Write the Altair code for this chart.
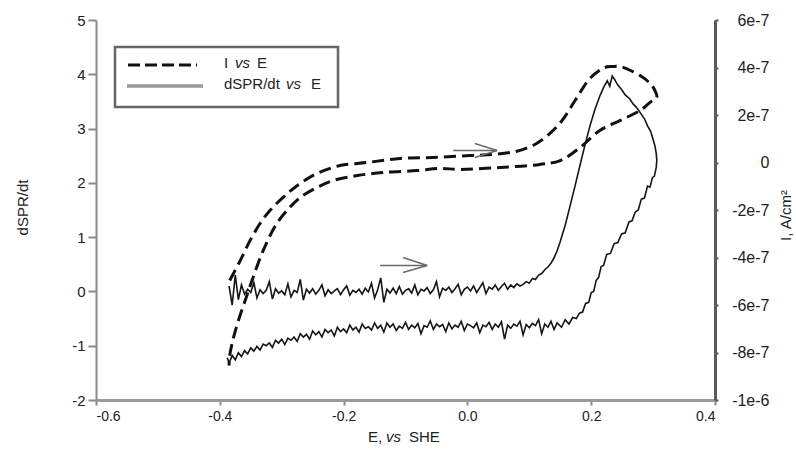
import altair as alt
import pandas as pd

FONT = "Liberation Sans"
MINUS = "\u2212"
NBSP = "\u00a0"

# ---------------- axis ticks ----------------
x_ticks = [-0.6, -0.4, -0.2, 0.0, 0.2, 0.4]
yl_ticks = [-2, -1, 0, 1, 2, 3, 4, 5]
yr_ticks = [-1e-6, -8e-7, -6e-7, -4e-7, -2e-7, 0, 2e-7, 4e-7, 6e-7]

# ---------------- I vs E (dashed), units of 1e-7 A/cm2 ----------------
cvf_E = [-0.384, -0.367, -0.351, -0.335, -0.319, -0.291, -0.270, -0.243, -0.206, -0.162,
         -0.109, -0.056, 0.004, 0.041, 0.069, 0.085, 0.109, 0.133, 0.153, 0.174,
         0.198, 0.222, 0.234, 0.247, 0.279, 0.295, 0.303, 0.306]
cvf_I = [-4.97, -4.13, -3.28, -2.57, -2.02, -1.31, -0.88, -0.46, -0.13, 0.00,
         0.17, 0.21, 0.29, 0.34, 0.42, 0.51, 0.76, 1.22, 1.77, 2.61,
         3.54, 4.00, 4.04, 4.04, 3.66, 3.33, 3.03, 2.74]
cvr_E = [0.295, 0.279, 0.247, 0.214, 0.182, 0.150, 0.117, 0.053, -0.012, -0.044,
         -0.081, -0.136, -0.178, -0.217, -0.243, -0.270, -0.287, -0.308, -0.330, -0.348,
         -0.359, -0.371, -0.379, -0.384, -0.385]
cvr_I = [2.53, 2.19, 1.77, 1.35, 0.63, 0.08, -0.08, -0.21, -0.29, -0.25,
         -0.34, -0.42, -0.55, -0.76, -1.05, -1.47, -1.89, -2.57, -3.71, -4.97,
         -5.81, -6.74, -7.49, -8.13, -8.55]

# ---------------- dSPR/dt vs E (noisy solid) ----------------
fwd_E = [-0.385, -0.380, -0.375, -0.370, -0.365, -0.360, -0.355, -0.350, -0.345, -0.340,
         -0.335, -0.330, -0.325, -0.320, -0.315, -0.310, -0.305, -0.300, -0.295, -0.290,
         -0.285, -0.280, -0.275, -0.270, -0.265, -0.260, -0.255, -0.250, -0.245, -0.240,
         -0.235, -0.230, -0.225, -0.220, -0.215, -0.210, -0.205, -0.200, -0.195, -0.190,
         -0.185, -0.180, -0.175, -0.170, -0.165, -0.160, -0.155, -0.150, -0.145, -0.140,
         -0.135, -0.130, -0.125, -0.120, -0.115, -0.110, -0.105, -0.100, -0.095, -0.090,
         -0.085, -0.080, -0.075, -0.070, -0.065, -0.060, -0.055, -0.050, -0.045, -0.040,
         -0.035, -0.030, -0.025, -0.020, -0.015, -0.010, -0.005, 0.000, 0.005, 0.010,
         0.015, 0.020, 0.025, 0.030, 0.035, 0.040, 0.045, 0.050, 0.055, 0.060,
         0.065, 0.070, 0.075, 0.080, 0.085]
fwd_S = [0.10, -0.25, 0.30, -0.15, 0.12, -0.05, 0.04, -0.02, 0.16, -0.12,
         0.03, -0.04, 0.02, 0.18, -0.14, 0.05, -0.03, 0.01, -0.06, 0.14,
         -0.10, 0.02, -0.02, 0.22, -0.16, 0.04, -0.03, 0.05, -0.05, 0.02,
         0.12, -0.08, 0.03, -0.04, 0.01, 0.05, -0.06, 0.03, 0.10, -0.07,
         0.02, -0.02, 0.04, -0.05, 0.06, -0.01, 0.15, -0.12, 0.03, 0.25,
         -0.20, 0.04, -0.03, 0.06, -0.04, 0.09, -0.05, 0.02, 0.05, -0.03,
         0.12, -0.06, 0.04, 0.01, 0.07, -0.04, 0.03, 0.18, -0.10, 0.06,
         0.02, 0.08, -0.02, 0.05, 0.13, -0.06, 0.04, 0.08, 0.01, 0.10,
         -0.02, 0.07, 0.16, -0.04, 0.08, 0.04, 0.12, 0.02, 0.09, 0.15,
         0.04, 0.12, 0.07, 0.14, 0.10]
rise_E = [0.090, 0.095, 0.100, 0.105, 0.110, 0.115, 0.120, 0.125, 0.130, 0.135,
          0.140, 0.145, 0.150, 0.158, 0.166, 0.174, 0.182, 0.190, 0.198, 0.206,
          0.214, 0.220, 0.226, 0.230, 0.234, 0.238, 0.243, 0.249, 0.255, 0.262,
          0.268, 0.274, 0.280, 0.286, 0.291, 0.296, 0.300, 0.303, 0.305, 0.306]
rise_S = [0.13, 0.18, 0.15, 0.24, 0.22, 0.30, 0.33, 0.40, 0.45, 0.52,
          0.62, 0.75, 0.92, 1.22, 1.58, 1.95, 2.33, 2.70, 3.05, 3.35,
          3.60, 3.76, 3.88, 3.78, 3.97, 3.90, 3.80, 3.72, 3.62, 3.55,
          3.45, 3.38, 3.28, 3.18, 3.05, 2.95, 2.80, 2.68, 2.55, 2.42]
desc_E = [0.305, 0.302, 0.299, 0.295, 0.291, 0.286, 0.281, 0.276, 0.271, 0.266,
          0.261, 0.255, 0.249, 0.243, 0.237, 0.231, 0.225, 0.220, 0.216, 0.212,
          0.208, 0.204, 0.200, 0.196, 0.191, 0.186, 0.181, 0.176, 0.170, 0.164,
          0.158, 0.152]
desc_S = [2.28, 2.12, 2.10, 1.92, 1.94, 1.72, 1.70, 1.50, 1.46, 1.30,
          1.28, 1.08, 1.06, 0.90, 0.88, 0.70, 0.68, 0.48, 0.46, 0.26,
          0.20, 0.00, -0.02, -0.20, -0.22, -0.38, -0.40, -0.50, -0.48, -0.60,
          -0.52, -0.66]
back_E = [0.145, 0.140, 0.135, 0.130, 0.125, 0.120, 0.115, 0.110, 0.105, 0.100,
          0.095, 0.090, 0.085, 0.080, 0.075, 0.070, 0.065, 0.060, 0.055, 0.050,
          0.045, 0.040, 0.035, 0.030, 0.025, 0.020, 0.015, 0.010, 0.005, 0.000,
          -0.005, -0.010, -0.015, -0.020, -0.025, -0.030, -0.035, -0.040, -0.045, -0.050,
          -0.055, -0.060, -0.065, -0.070, -0.075, -0.080, -0.085, -0.090, -0.095, -0.100,
          -0.105, -0.110, -0.115, -0.120, -0.125, -0.130, -0.135, -0.140, -0.145, -0.150,
          -0.155, -0.160, -0.165, -0.170, -0.175, -0.180, -0.185, -0.190, -0.195, -0.200,
          -0.205, -0.210, -0.215, -0.220, -0.225, -0.230, -0.235, -0.240, -0.245, -0.250,
          -0.255, -0.260, -0.265, -0.270, -0.275, -0.280, -0.285, -0.290, -0.295, -0.300,
          -0.305, -0.310, -0.315, -0.320, -0.325, -0.330, -0.335, -0.340, -0.345, -0.350,
          -0.355, -0.360, -0.365, -0.370, -0.375, -0.380, -0.385, -0.388]
back_S = [-0.58, -0.70, -0.55, -0.66, -0.60, -0.78, -0.52, -0.63, -0.59, -0.67,
          -0.61, -0.80, -0.55, -0.64, -0.60, -0.68, -0.62, -0.88, -0.56, -0.66,
          -0.60, -0.70, -0.57, -0.65, -0.62, -0.76, -0.58, -0.67, -0.63, -0.60,
          -0.72, -0.55, -0.66, -0.62, -0.69, -0.58, -0.74, -0.61, -0.65, -0.60,
          -0.70, -0.54, -0.66, -0.63, -0.78, -0.59, -0.67, -0.62, -0.70, -0.57,
          -0.68, -0.64, -0.72, -0.60, -0.66, -0.58, -0.75, -0.62, -0.68, -0.58,
          -0.71, -0.65, -0.68, -0.60, -0.75, -0.66, -0.71, -0.62, -0.76, -0.69,
          -0.74, -0.66, -0.82, -0.71, -0.76, -0.70, -0.84, -0.74, -0.80, -0.73,
          -0.88, -0.79, -0.84, -0.78, -0.92, -0.84, -0.90, -0.86, -0.98, -0.88,
          -0.95, -0.90, -1.03, -0.95, -1.00, -0.97, -1.08, -1.01, -1.10, -1.04,
          -1.15, -1.09, -1.20, -1.13, -1.26, -1.18, -1.32, -1.22]

# ---------------- scan-direction arrows (shaft + two barbs) ----------------
arS_E = [-0.141, -0.104, -0.104]
arS_E2 = [-0.065, -0.065, -0.065]
arS_S = [0.478, 0.625, 0.349]
arS_S2 = [0.478, 0.478, 0.478]
arI_E = [-0.023, 0.012, 0.012]
arI_E2 = [0.048, 0.048, 0.048]
arI_I = [0.505, 0.80, 0.21]
arI_I2 = [0.505, 0.505, 0.505]

# ---------------- tables ----------------
sig = pd.DataFrame({"E": fwd_E + rise_E + desc_E + back_E,
                    "S": fwd_S + rise_S + desc_S + back_S})
sig["idx"] = range(len(sig))
cv = pd.DataFrame({"E": cvf_E + cvr_E, "I": [v * 1e-7 for v in cvf_I + cvr_I]})
cv["idx"] = range(len(cv))
arrS = pd.DataFrame({"E": arS_E, "E2": arS_E2, "S": arS_S, "S2": arS_S2})
arrI = pd.DataFrame({"E": arI_E, "E2": arI_E2,
                     "I": [v * 1e-7 for v in arI_I], "I2": [v * 1e-7 for v in arI_I2]})
one = pd.DataFrame({"k": [0]})

x_scale = alt.Scale(domain=[-0.6, 0.4], nice=False, zero=False)
x_axis = alt.Axis(values=x_ticks, title=None, grid=False,
                  labelExpr=f"replace(format(datum.value, '.1f'), '{MINUS}', '-')",
                  domainColor="#9a9a9a", domainWidth=3, tickColor="#8a8a8a", tickWidth=2,
                  tickSize=5, labelPadding=4, labelFontSize=14)
yl_scale = alt.Scale(domain=[-2, 5], nice=False, zero=False)
yl_axis = alt.Axis(values=yl_ticks, orient="left", title="dSPR/dt", grid=False,
                   labelExpr=f"replace(format(datum.value, 'd'), '{MINUS}', '-')",
                   labelFontSize=15, tickSize=8, tickColor="#8a8a8a", tickWidth=2,
                   domainColor="#8a8a8a", domainWidth=2, labelPadding=3,
                   titleFontSize=15, titleFontWeight="normal", titleAngle=270,
                   titleX=-74, titleY=187, titleAlign="center", titleBaseline="middle")
yr_scale = alt.Scale(domain=[-1e-6, 6e-7], nice=False, zero=False)
zero_lbl = "0" + NBSP * 5
yr_axis = alt.Axis(values=yr_ticks, orient="right", title="I, A/cm²", grid=False,
                   labelExpr=f"datum.value == 0 ? '{zero_lbl}' : replace(format(datum.value, '.0e'), '{MINUS}', '-')",
                   labelAlign="right", labelPadding=51, labelFontSize=16,
                   tickSize=3, tickColor="#555555", tickWidth=2,
                   domainColor="#5a5a5a", domainWidth=3,
                   titleFontSize=15, titleFontWeight="normal", titleAngle=270,
                   titleX=70, titleY=195, titleAlign="center", titleBaseline="middle")

line_s = alt.Chart(sig).mark_line(color="#151515", strokeWidth=1.6).encode(
    x=alt.X("E:Q", scale=x_scale, axis=x_axis),
    y=alt.Y("S:Q", scale=yl_scale, axis=yl_axis),
    order=alt.Order("idx:Q"),
)
arrow_s = alt.Chart(arrS).mark_rule(color="#6a6a6a", strokeWidth=1.5).encode(
    x=alt.X("E:Q", scale=x_scale, axis=x_axis), x2="E2:Q",
    y=alt.Y("S:Q", scale=yl_scale, axis=yl_axis), y2="S2:Q",
)
left = alt.layer(line_s, arrow_s)

line_i = alt.Chart(cv).mark_line(color="#111111", strokeWidth=3, strokeDash=[12, 6],
                                 interpolate="catmull-rom").encode(
    x=alt.X("E:Q", scale=x_scale, axis=x_axis),
    y=alt.Y("I:Q", scale=yr_scale, axis=yr_axis),
    order=alt.Order("idx:Q"),
)
arrow_i = alt.Chart(arrI).mark_rule(color="#6a6a6a", strokeWidth=1.5).encode(
    x=alt.X("E:Q", scale=x_scale, axis=x_axis), x2="E2:Q",
    y=alt.Y("I:Q", scale=yr_scale, axis=yr_axis), y2="I2:Q",
)
right = alt.layer(line_i, arrow_i)


def txt(s, x, y, size=15, style="normal"):
    return alt.Chart(one).mark_text(align="left", baseline="middle", font=FONT,
                                    fontSize=size, fontStyle=style, color="#222222").encode(
        x=alt.value(x), y=alt.value(y), text=alt.value(s))


box = alt.Chart(one).mark_rect(fill="white", stroke="#666666", strokeWidth=2.5).encode(
    x=alt.value(19), x2=alt.value(242), y=alt.value(27), y2=alt.value(87))
leg_dash = alt.Chart(one).mark_rule(color="#111111", strokeWidth=3, strokeDash=[12, 5]).encode(
    x=alt.value(32), x2=alt.value(101), y=alt.value(45))
leg_solid = alt.Chart(one).mark_rule(color="#999999", strokeWidth=3.5).encode(
    x=alt.value(31), x2=alt.value(107), y=alt.value(66))

legend = alt.layer(
    box, leg_dash, leg_solid,
    txt("I", 128, 43), txt("vs", 139, 43, style="italic"), txt("E", 161, 43),
    txt("dSPR/dt", 128, 64), txt("vs", 190, 64, style="italic"), txt("E", 215, 64),
    txt("E,", 272, 417), txt("vs", 290, 417, style="italic"), txt("SHE", 313, 417),
)

chart = alt.layer(left, right, legend).resolve_scale(y="independent").properties(
    width=619, height=380,
    padding={"left": 96, "top": 20, "right": 81, "bottom": 50},
    autosize="none",
    background="white",
).configure_view(stroke=None).configure_axis(
    labelFont=FONT, titleFont=FONT, labelColor="#222222", titleColor="#222222"
)

chart.save("out.html", embed_options={"renderer": "svg", "actions": False})
